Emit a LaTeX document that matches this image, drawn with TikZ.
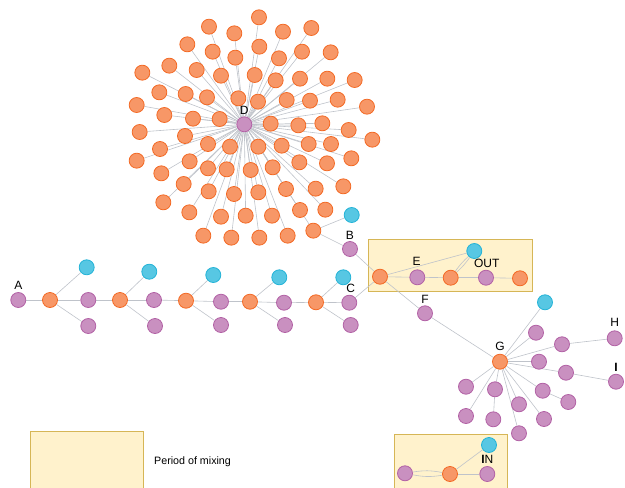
\documentclass[tikz,border=0pt]{standalone}
\usepackage{fontspec}
\setmainfont{Liberation Sans}
\pgfdeclarelayer{boxes}
\pgfdeclarelayer{edges}
\pgfsetlayers{boxes,edges,main}
\definecolor{orf}{HTML}{F79767}
\definecolor{ord}{HTML}{F36924}
\definecolor{puf}{HTML}{C990C0}
\definecolor{pud}{HTML}{B261A5}
\definecolor{blf}{HTML}{57C7E3}
\definecolor{bld}{HTML}{23B3D7}
\definecolor{edgec}{HTML}{BFC3CA}
\definecolor{boxf}{HTML}{FFF2CC}
\definecolor{boxd}{HTML}{D6B656}
\begin{document}
\begin{tikzpicture}[x=1pt,y=-1pt,
  nd/.style={circle,minimum size=15pt,inner sep=0pt,line width=0.8pt},
  onode/.style={nd,fill=orf,draw=ord},
  pnode/.style={nd,fill=puf,draw=pud},
  bnode/.style={nd,fill=blf,draw=bld},
  edge/.style={draw=edgec,line width=0.6pt},
  lab/.style={font=\fontsize{12}{12}\selectfont,inner sep=0pt},
  mixbox/.style={fill=boxf,draw=boxd,line width=0.9pt}]
\useasboundingbox (0,0) rectangle (625,488);

% ---- D cluster ----
\node[pnode] (D) at (244.3,124.3) {};
\node[lab] (Dl) at (244.3,110) {D};
\foreach \zx/\zy [count=\i] in {
417/52,267/80,343/100,489/95,574/84,202/133,278/155,418/140,346/173,477/175,
546/155,632/157,148/197,230/210,303/227,404/225,467/241,540/236,622/236,704/240,
67/218,118/277,197/282,261/292,355/295,414/305,500/300,570/302,653/299,741/320,
50/315,133/345,219/356,299/357,452/371,535/376,607/370,686/390,59/396,195/408,
264/432,330/440,415/440,485/437,566/432,633/432,757/419,120/447,50/482,209/484,
264/505,320/508,392/510,458/502,538/487,621/490,694/475,124/520,191/552,266/574,
342/582,415/577,498/567,587/566,670/559,130/607,208/637,303/650,377/647,456/647,
540/630,616/629,250/707,334/713,418/713,503/707,580/692}{
  \node[onode] (o\i) at ({120+\zx/3},{\zy/3}) {};
  \begin{pgfonlayer}{edges}\draw[edge] (D) -- (o\i);\end{pgfonlayer}
}
\node[bnode] (bB) at (351.7,215) {};
\node[pnode] (B) at (350,249) {};
\node[lab] (Bl) at (350,235) {B};

% ---- chain A ... C ----
\node[pnode] (A) at (18.3,300) {};
\node[lab] (Al) at (18.3,285) {A};
\node[onode] (c1) at (50,300) {};
\node[bnode] (b1) at (86.7,267.3) {};
\node[pnode] (p1) at (88.3,300) {};
\node[pnode] (q1) at (88.3,326) {};
\node[onode] (c2) at (120,300) {};
\node[bnode] (b2) at (149.3,271.7) {};
\node[pnode] (p2) at (154,300) {};
\node[pnode] (q2) at (155,326) {};
\node[onode] (c3) at (186,300.7) {};
\node[bnode] (b3) at (213.3,275) {};
\node[pnode] (p3) at (221,301.7) {};
\node[pnode] (q3) at (221,325) {};
\node[onode] (c4) at (250,301.7) {};
\node[bnode] (b4) at (279.3,277.3) {};
\node[pnode] (p4) at (284,302.7) {};
\node[pnode] (q4) at (285,325) {};
\node[onode] (c5) at (316,302.3) {};
\node[bnode] (b5) at (343.3,277.3) {};
\node[pnode] (C) at (349.3,302.7) {};
\node[pnode] (q5) at (350.7,325) {};
\node[lab] (Cl) at (350.7,288) {C};

% ---- boxes ----
\begin{pgfonlayer}{boxes}
\draw[mixbox] (368.3,239.3) rectangle (532.7,291);
\draw[mixbox] (394.3,434.3) rectangle (507.7,490);
\draw[mixbox] (30,431.7) rectangle (143.3,490);
\end{pgfonlayer}
\node[onode] (e0) at (380,276.7) {};
\node[pnode] (E) at (417.3,277.3) {};
\node[lab] (El) at (416.7,261) {E};
\node[onode] (e1) at (450.7,277.7) {};
\node[bnode] (b6) at (474.3,251) {};
\node[pnode] (OUT) at (486,277.7) {};
\node[lab] (OUTl) at (486.7,263.3) {OUT};
\node[onode] (e2) at (520,278.3) {};
\node[pnode] (F) at (425,313.3) {};
\node[lab] (Fl) at (425,299) {F};

% ---- G cluster ----
\node[onode] (G) at (500,361.7) {};
\node[lab] (Gl) at (500,346.7) {G};
\node[bnode] (b7) at (545,302.3) {};
\node[pnode] (g1) at (536,332.7) {};
\node[pnode] (g2) at (562,344.3) {};
\node[pnode] (H) at (614.7,338.3) {};
\node[lab] (Hl) at (614.7,322.7) {H};
\node[pnode] (g3) at (539,361.7) {};
\node[pnode] (g4) at (566,372.7) {};
\node[pnode] (I) at (616,381.7) {};
\node[lab,font=\fontsize{12}{12}\selectfont\bfseries] (Il) at (616,367.3) {I};
\node[pnode] (g5) at (466,386.7) {};
\node[pnode] (g6) at (495,389.3) {};
\node[pnode] (g7) at (542.7,390.7) {};
\node[pnode] (g8) at (568.3,402) {};
\node[pnode] (g9) at (519,404.3) {};
\node[pnode] (g10) at (466,416) {};
\node[pnode] (g11) at (493.3,419.3) {};
\node[pnode] (g12) at (544,419) {};
\node[pnode] (g13) at (519,433.3) {};

% ---- IN box ----
\node[pnode] (i0) at (405,473.3) {};
\node[onode] (i1) at (450,474) {};
\node[bnode] (b8) at (489,445) {};
\node[pnode] (IN) at (487.3,474) {};
\node[lab] (INl) at (487.3,459) {\textbf{I}N};

% ---- legend ----
\node[font=\fontsize{10.7}{12}\selectfont,anchor=west,inner sep=0pt] (leg) at (154,461.7) {Period of mixing};

% ---- edges ----
\begin{pgfonlayer}{edges}
\draw[edge] (o77) -- (bB);
\draw[edge] (o77) -- (B);
\draw[edge] (A) -- (c1);
\foreach \c/\b/\p/\q in {c1/b1/p1/q1, c2/b2/p2/q2, c3/b3/p3/q3, c4/b4/p4/q4, c5/b5/C/q5}{
  \draw[edge] (\c) -- (\b);
  \draw[edge] (\c) -- (\p);
  \draw[edge] (\c) -- (\q);
}
\draw[edge] (p1) -- (c2);
\draw[edge] (p2) -- (c3);
\draw[edge] (p3) -- (c4);
\draw[edge] (p4) -- (c5);
\draw[edge] (B) -- (e0);
\draw[edge] (C) -- (e0);
\draw[edge] (e0) -- (E);
\draw[edge] (e0) -- (b6);
\draw[edge] (E) -- (e1);
\draw[edge] (e1) to[bend left=6] (b6);
\draw[edge] (e1) to[bend right=6] (b6);
\draw[edge] (e1) -- (OUT);
\draw[edge] (OUT) -- (e2);
\draw[edge] (e0) -- (F);
\draw[edge] (F) -- (G);
\foreach \t in {b7,g1,g2,g3,g4,g5,g6,g7,g9,g10,g12,g13}{\draw[edge] (G) -- (\t);}
\draw[edge] (g2) -- (H);
\draw[edge] (g4) -- (I);
\draw[edge] (g7) -- (g8);
\draw[edge] (g6) -- (g11);
\draw[edge] (i0) to[bend left=10] (i1);
\draw[edge] (i0) to[bend right=10] (i1);
\draw[edge] (i1) -- (b8);
\draw[edge] (i1) -- (IN);
\end{pgfonlayer}
\end{tikzpicture}
\end{document}
